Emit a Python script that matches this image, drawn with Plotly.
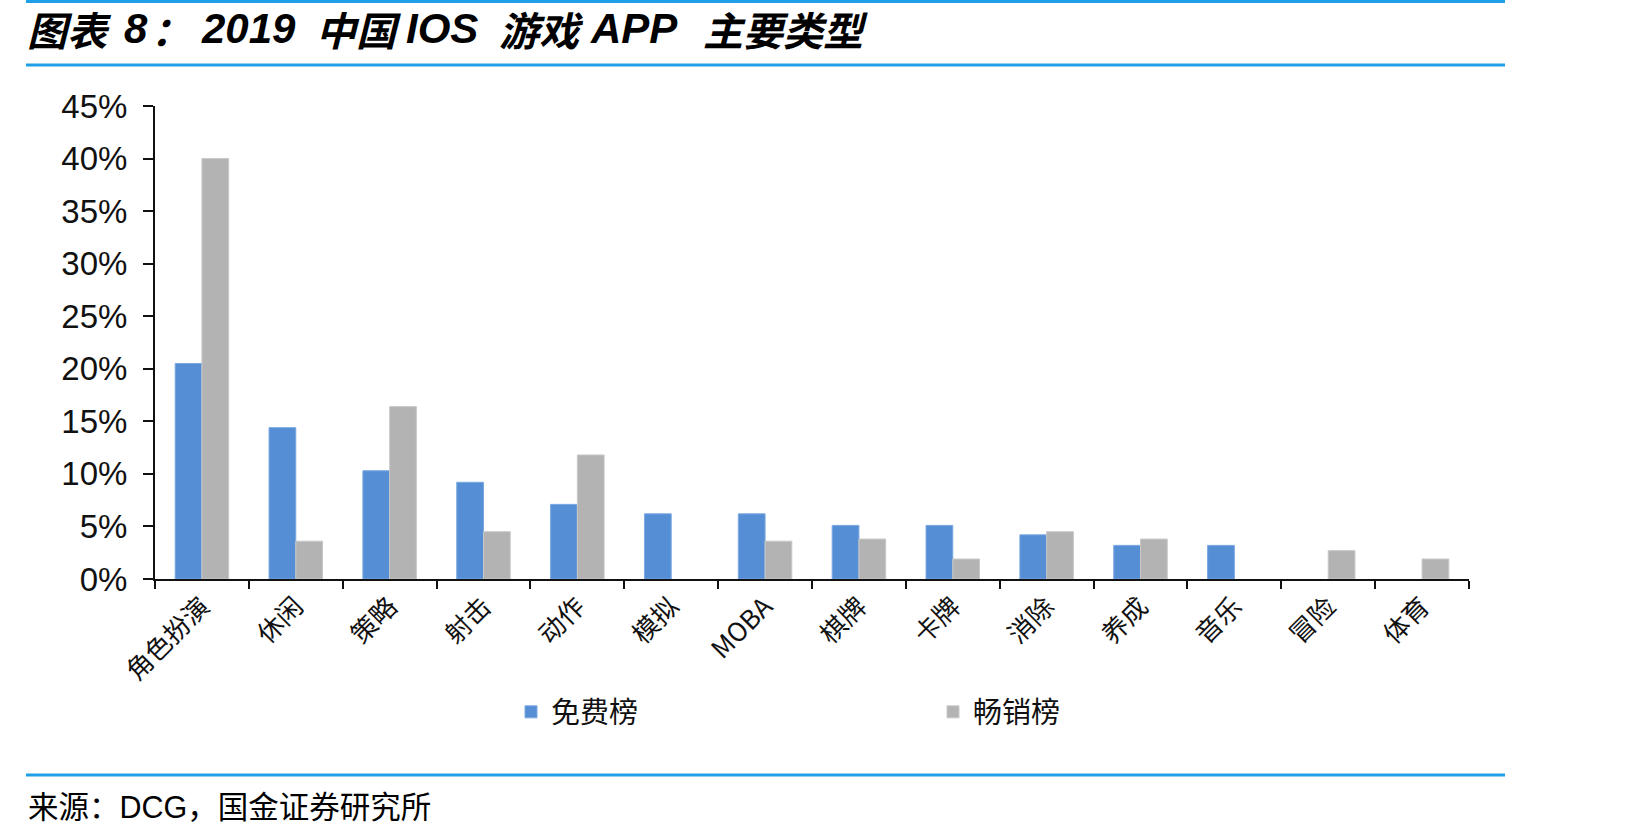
import plotly.graph_objects as go

categories = ["角色扮演", "休闲", "策略", "射击", "动作", "模拟", "MOBA", "棋牌", "卡牌", "消除", "养成", "音乐", "冒险", "体育"]
free_chart = [20.5, 14.4, 10.3, 9.2, 7.1, 6.2, 6.2, 5.1, 5.1, 4.2, 3.2, 3.2, None, None]
grossing_chart = [40.0, 3.6, 16.4, 4.5, 11.8, None, 3.6, 3.8, 1.9, 4.5, 3.8, None, 2.7, 1.9]
series_names = ["免费榜", "畅销榜"]
y_ticks = [0, 5, 10, 15, 20, 25, 30, 35, 40, 45]
y_tick_text = [f"{v}%" for v in y_ticks]
title_parts = ["图表", "8", "：", "2019", "中国", "IOS", "游戏", "APP", "主要类型"]
source_text = "来源：DCG，国金证券研究所"

W, H = 1642, 835
L, R, T, B = 155, 1469, 106, 579
PW, PH = R - L, B - T

def px(x):
    return (x - L) / PW

def py(y):
    return (B - y) / PH

CJK = "Noto Sans CJK SC"
LAT = "Liberation Sans"
fig = go.Figure()
fig.add_trace(go.Bar(x=categories, y=free_chart, name=series_names[0],
                     marker=dict(color="#558ED5", line=dict(color="#7AA8E0", width=1))))
fig.add_trace(go.Bar(x=categories, y=grossing_chart, name=series_names[1],
                     marker=dict(color="#B3B3B3", line=dict(color="#C8C8C8", width=1))))

fig.update_layout(
    width=W, height=H,
    margin=dict(l=L, r=W - R, t=T, b=H - B, autoexpand=False),
    paper_bgcolor="white", plot_bgcolor="white",
    barmode="group", bargap=0.43, bargroupgap=0,
    showlegend=True,
    legend=dict(orientation="h", x=px(511), y=py(712), xanchor="left", yanchor="middle",
                font=dict(family=CJK, size=29, color="#111"),
                entrywidth=377, entrywidthmode="pixels", itemwidth=30,
                bgcolor="rgba(0,0,0,0)"),
    font=dict(family=LAT, color="#111"),
)
fig.update_xaxes(
    showline=True, linecolor="#111", linewidth=2,
    ticks="outside", tickson="boundaries", ticklen=8, tickwidth=2, tickcolor="#111",
    tickangle=-45, tickfont=dict(family=CJK + ", " + LAT, size=26, color="#111"),
    showgrid=False, range=[-0.5, len(categories) - 0.5],
)
fig.update_yaxes(
    showline=True, linecolor="#111", linewidth=2,
    ticks="outside", ticklen=10, tickwidth=2, tickcolor="#111",
    tickvals=y_ticks, ticktext=y_tick_text, range=[0, 45],
    tickfont=dict(family=LAT, size=33, color="#111"),
    showgrid=False, zeroline=False, ticklabelstandoff=9,
)

blue = "#1E9FE8"
shapes = [
    dict(type="line", xref="paper", yref="paper", x0=px(26), x1=px(1505), y0=py(1.5), y1=py(1.5),
         line=dict(color=blue, width=3)),
    dict(type="line", xref="paper", yref="paper", x0=px(26), x1=px(1505), y0=py(65), y1=py(65),
         line=dict(color=blue, width=3)),
    dict(type="line", xref="paper", yref="paper", x0=px(26), x1=px(1505), y0=py(775), y1=py(775),
         line=dict(color=blue, width=3)),
]
fig.update_layout(shapes=shapes)

# title segments: left pixel positions of each segment
title_x = [25, 122, 149, 199, 314, 404, 497, 588, 701]
for part, x0 in zip(title_parts, title_x):
    is_lat = part.isascii()
    fig.add_annotation(xref="paper", yref="paper", x=px(x0), y=py(29), xanchor="left", yanchor="middle",
                       text=f"<b><i>{part}</i></b>", showarrow=False,
                       font=dict(family=LAT if is_lat else CJK, size=42 if is_lat else 40, color="#000"))

src = source_text.replace("DCG", f'<span style="font-family:{LAT}">DCG</span>')
fig.add_annotation(xref="paper", yref="paper", x=px(26), y=py(805), xanchor="left", yanchor="middle",
                   text=src, showarrow=False,
                   font=dict(family=CJK, size=30.5, color="#000"))

fig.write_html("out.html")
